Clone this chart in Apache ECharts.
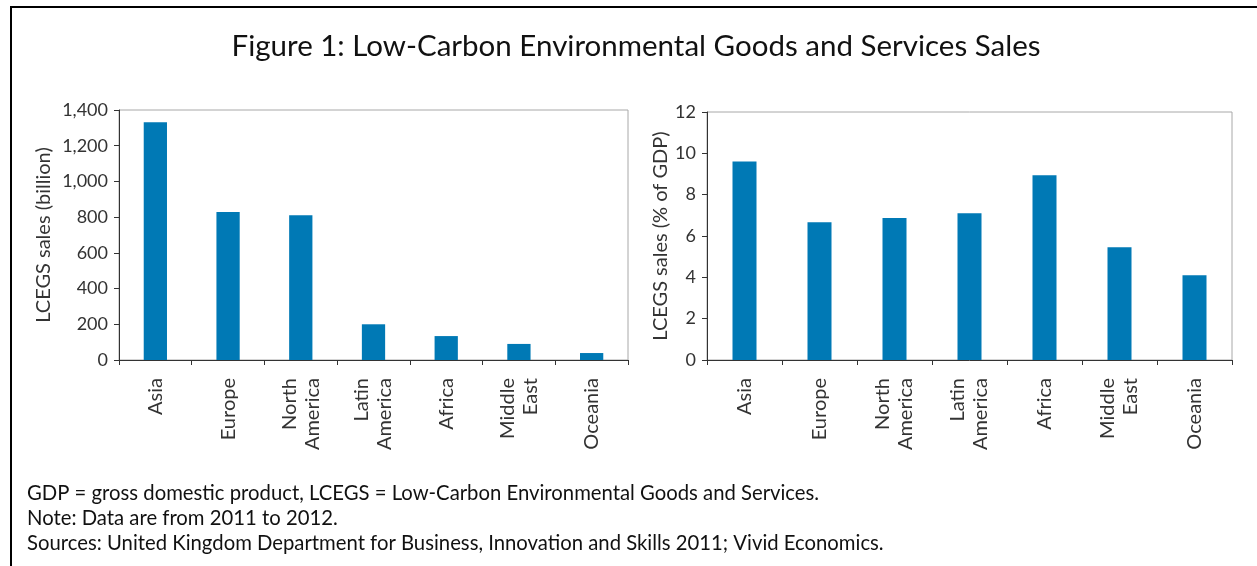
<!DOCTYPE html>
<html>
<head>
<meta charset="utf-8">
<script src="https://cdn.jsdelivr.net/npm/echarts@6/dist/echarts.min.js"></script>
<style>html,body{margin:0;padding:0;background:#fff;}#c{width:1257px;height:566px;}</style>
</head>
<body>
<div id="c"></div>
<script>
const categories = ['Asia', 'Europe', 'North\nAmerica', 'Latin\nAmerica', 'Africa', 'Middle\nEast', 'Oceania'];
const salesBillion = [1331, 829, 810, 200, 134, 90, 39];
const salesPctGDP = [9.60, 6.66, 6.87, 7.10, 8.94, 5.45, 4.10];
const leftTicks = { min: 0, max: 1400, interval: 200 };
const rightTicks = { min: 0, max: 12, interval: 2 };
const titleText = 'Figure 1: Low-Carbon Environmental Goods and Services Sales';
const notes = [
  'GDP = gross domestic product, LCEGS = Low-Carbon Environmental Goods and Services.',
  'Note: Data are from 2011 to 2012.',
  'Sources: United Kingdom Department for Business, Innovation and Skills 2011; Vivid Economics.'
];

const FONT = 'Lato';
const barColor = '#0079b5';

function xAxis(gridIndex) {
  return {
    type: 'category', gridIndex, data: categories,
    axisLine: { lineStyle: { color: '#333', width: 1 } },
    axisTick: { show: true, length: 5, alignWithLabel: false, lineStyle: { color: '#333' } },
    axisLabel: { rotate: 90, margin: 18, color: '#333', fontFamily: FONT, fontSize: 20, lineHeight: 23, interval: 0 }
  };
}
function yAxis(gridIndex, t, name, gap, fmt) {
  return {
    type: 'value', gridIndex, min: t.min, max: t.max, interval: t.interval,
    name, nameLocation: 'middle', nameGap: gap, nameRotate: 90,
    nameTextStyle: { fontFamily: FONT, fontSize: 20, color: '#333' },
    axisLine: { show: true, lineStyle: { color: '#333', width: 1 } },
    axisTick: { show: true, length: 5, lineStyle: { color: '#333' } },
    splitLine: { show: false },
    axisLabel: { margin: 11, color: '#333', fontFamily: FONT, fontSize: 18, formatter: fmt }
  };
}

const chart = echarts.init(document.getElementById('c'));
chart.setOption({
  animation: false,
  title: {
    text: titleText, left: 631, top: 26, textAlign: 'center',
    textStyle: { fontFamily: FONT, fontWeight: 'normal', fontSize: 29.5, color: '#111' }
  },
  grid: [
    { left: 119, top: 110, width: 509, height: 250, show: true, borderColor: '#a8a8a8', borderWidth: 1, containLabel: false },
    { left: 707, top: 112, width: 525, height: 248, show: true, borderColor: '#a8a8a8', borderWidth: 1, containLabel: false }
  ],
  xAxis: [xAxis(0), xAxis(1)],
  yAxis: [
    yAxis(0, leftTicks, 'LCEGS sales (billion)', 65, v => v.toLocaleString('en-US')),
    yAxis(1, rightTicks, 'LCEGS sales (% of GDP)', 36, v => String(v))
  ],
  series: [
    { type: 'bar', xAxisIndex: 0, yAxisIndex: 0, data: salesBillion, barWidth: '32%', itemStyle: { color: barColor } },
    { type: 'bar', xAxisIndex: 1, yAxisIndex: 1, data: salesPctGDP, barWidth: '32%', itemStyle: { color: barColor } }
  ],
  graphic: [
    { type: 'rect', shape: { x: 11, y: 7, width: 1300, height: 700 }, style: { fill: 'none', stroke: '#000', lineWidth: 2 }, silent: true, z: 100 },
    ...notes.map((t, i) => ({
      type: 'text', left: 27, top: 483 + i * 25,
      style: { text: t, fontFamily: FONT, fontSize: 20.3, fill: '#111' }
    }))
  ]
});
</script>
</body>
</html>
